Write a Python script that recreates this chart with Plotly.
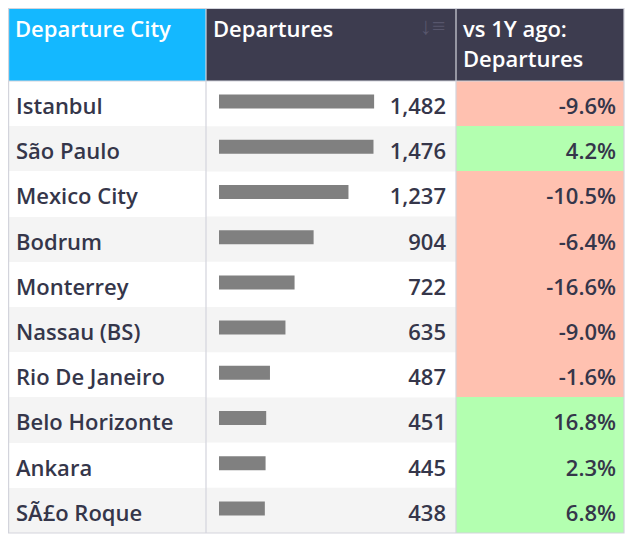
import plotly.graph_objects as go

cities = ["Istanbul", "São Paulo", "Mexico City", "Bodrum", "Monterrey",
          "Nassau (BS)", "Rio De Janeiro", "Belo Horizonte", "Ankara", "SÃ£o Roque"]
departures = [1482, 1476, 1237, 904, 722, 635, 487, 451, 445, 438]
change_pct = [-9.6, 4.2, -10.5, -6.4, -16.6, -9.0, -1.6, 16.8, 2.3, 6.8]
headers = ["Departure City", "Departures", "vs 1Y ago:<br>Departures"]

# page has an 8px body margin: figure is 625x534 placed at (8, 8)
W, H = 625, 534
N = len(cities)
TX0, TX1 = 0, 616
TY0 = 0
HDR_H = 73
ROW_H = 45.2
TY1 = TY0 + HDR_H + ROW_H * N
C1, C2 = 198, 448

TEXT = "#35364a"
STRIPE = "#f4f4f4"
RED = "#ffc1b0"
GREEN = "#b3ffb0"
BORDER = "#d3d4dc"
FONT = "Open Sans"
FS = 22


def py(px):
    return 1 - px / H


row_fill = ["white" if i % 2 == 0 else STRIPE for i in range(N)]
chg_fill = [GREEN if v >= 0 else RED for v in change_pct]
clear = "rgba(0,0,0,0)"

fig = go.Figure()

# background table (fills only)
fig.add_trace(go.Table(
    domain=dict(x=[TX0 / W, TX1 / W], y=[py(TY1), py(TY0)]),
    columnwidth=[C1 - TX0, C2 - C1, TX1 - C2],
    header=dict(
        values=["", "", ""],
        fill_color=["#14b8ff", "#3d3c4f", "#3d3c4f"],
        height=HDR_H,
        line=dict(width=0),
    ),
    cells=dict(
        values=[[""] * N, [""] * N, [""] * N],
        fill_color=[row_fill, [clear] * N, chg_fill],
        height=ROW_H,
        line=dict(width=0),
    ),
    hoverinfo="skip",
))

fig.add_trace(go.Bar(
    x=departures, y=cities, orientation="h",
    marker=dict(color="#808080", line=dict(width=0)),
    width=0.31, xaxis="x", yaxis="y", hoverinfo="skip",
))

# text table (transparent), offset so text is vertically centred in the cells
T_TOP = 6.5
T_HDR = 75
fig.add_trace(go.Table(
    domain=dict(x=[TX0 / W, TX1 / W], y=[py(T_TOP + T_HDR + ROW_H * N + 0.5), py(T_TOP)]),
    columnwidth=[C1 - TX0, C2 - C1 - 2, TX1 - C2 + 2],
    header=dict(
        values=["", "", ""],
        fill_color=clear,
        height=T_HDR,
        line=dict(width=0),
    ),
    cells=dict(
        values=[cities, [f"{v:,}" for v in departures], [f"{v:.1f}%" for v in change_pct]],
        fill_color=clear,
        font=dict(family=FONT, size=FS, color=TEXT, weight=600),
        align=["left", "right", "right"],
        height=ROW_H,
        line=dict(width=0),
    ),
    hoverinfo="skip",
))

shapes = []
for i in range(N):
    if i % 2 == 1:
        top = TY0 + HDR_H + i * ROW_H
        shapes.append(dict(type="rect", xref="paper", yref="paper",
                           x0=C1 / W, x1=C2 / W, y0=py(top + ROW_H), y1=py(top),
                           fillcolor=STRIPE, line=dict(width=0), layer="below"))
for x in [C1, C2]:
    shapes.append(dict(type="line", xref="paper", yref="paper",
                       x0=x / W, x1=x / W, y0=py(TY1), y1=py(TY0),
                       line=dict(color=BORDER, width=1.2), layer="above"))
shapes.append(dict(type="line", xref="paper", yref="paper",
                   x0=TX0 / W, x1=TX1 / W, y0=py(TY0 + HDR_H), y1=py(TY0 + HDR_H),
                   line=dict(color=BORDER, width=1), layer="above"))
shapes.append(dict(type="rect", xref="paper", yref="paper",
                   x0=(TX0 + 0.6) / W, x1=TX1 / W, y0=py(TY1), y1=py(TY0 + 0.5),
                   line=dict(color=BORDER, width=1.2), layer="above"))

# header labels
annotations = []
col_left = [TX0, C1, C2]
for j, h in enumerate(headers):
    for k, line in enumerate(h.split("<br>")):
        annotations.append(dict(
            text=line, xref="paper", yref="paper",
            x=(col_left[j] + 5) / W, y=py(20 + 30 * k),
            xanchor="left", yanchor="middle", showarrow=False,
            font=dict(family=FONT, size=FS, color="white", weight=600)))
annotations.append(dict(text="↓≡", xref="paper", yref="paper", x=425 / W, y=py(17),
                        xanchor="center", yanchor="middle", showarrow=False,
                        font=dict(family=FONT, size=24, color="#57566c")))

fig.update_layout(
    width=W, height=H,
    margin=dict(l=0, r=0, t=0, b=0),
    paper_bgcolor="white", plot_bgcolor=clear,
    showlegend=False,
    shapes=shapes,
    xaxis=dict(domain=[211 / W, 368 / W], range=[0, 1500], visible=False, fixedrange=True),
    yaxis=dict(domain=[py(TY1 - 2), py(TY0 + HDR_H - 2)], type="category",
               range=[N - 0.5, -0.5], visible=False, fixedrange=True),
    annotations=annotations,
)

fig.write_html("out.html")
